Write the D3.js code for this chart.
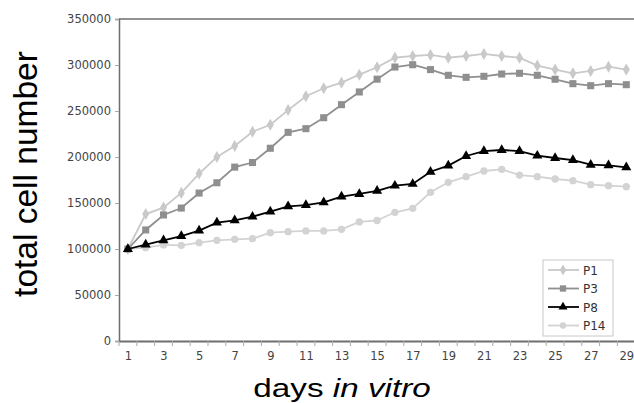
<!DOCTYPE html>
<html>
<head>
<meta charset="utf-8">
<script src="https://cdn.jsdelivr.net/npm/d3@7"></script>
<style>
  body { margin: 0; background: #fff; }
  svg { display: block; }
  .tick text { font-family: "DejaVu Sans", Verdana, sans-serif; font-size: 11.5px; fill: #444; }
</style>
</head>
<body>
<svg id="chart" width="634" height="403"></svg>
<script>
// days 1..29
var days = d3.range(1, 30);
var yTicks = [0, 50000, 100000, 150000, 200000, 250000, 300000, 350000];

var p1 = [100000, 138000, 145000, 161000, 182000, 200000, 212000, 227500, 235000, 251000,
  266000, 274700, 280800, 289500, 297500, 308000, 309800, 310900, 308000, 309800,
  312000, 309800, 308000, 299300, 295000, 291000, 293500, 298200, 295000];
var p3 = [100000, 120700, 137000, 144500, 160800, 172000, 189000, 194000, 209500, 226800,
  230800, 242700, 256900, 270700, 284600, 297800, 300300, 295000, 288800, 286600,
  287700, 290200, 291000, 288800, 284500, 279700, 277500, 279700, 278600];
var p8 = [100000, 104700, 109400, 114100, 119900, 128600, 131200, 135100, 140600, 146400,
  147800, 150700, 156900, 159800, 163200, 168800, 170700, 184000, 190600, 201100,
  206500, 207600, 206500, 201400, 198900, 196700, 191600, 191000, 188800];
var p14 = [100000, 101400, 104400, 104000, 106900, 109400, 110500, 111200, 117700, 118800,
  119600, 119600, 121400, 129400, 131000, 139900, 144200, 161600, 172500, 178600,
  184800, 186600, 180400, 178600, 176100, 174300, 169900, 168800, 167700];

var seriesNames = ["P1", "P3", "P8", "P14"];
var seriesValues = [p1, p3, p8, p14];
var seriesStyle = [
  {stroke: "#c9c9c9", fill: "#c9c9c9", symbol: d3.symbolDiamond, size: 42},
  {stroke: "#8f8f8f", fill: "#8f8f8f", symbol: d3.symbolSquare, size: 50},
  {stroke: "#000000", fill: "#000000", symbol: d3.symbolTriangle, size: 44},
  {stroke: "#d3d3d3", fill: "#d3d3d3", symbol: d3.symbolCircle, size: 42}
];

var svg = d3.select("#chart");
var margin = {left: 119, right: 0, top: 19, bottom: 62};
var width = 634 - margin.left - margin.right;
var height = 403 - margin.top - margin.bottom;

var g = svg.append("g").attr("transform", "translate(" + margin.left + "," + margin.top + ")");

var x = d3.scalePoint().domain(days).range([0, 29 * 17.8]).padding(0.5);
var y = d3.scaleLinear().domain([0, 350000]).range([height, 0]);

// top border
g.append("line")
  .attr("x1", 0).attr("x2", width).attr("y1", 0).attr("y2", 0)
  .attr("stroke", "#6e6e6e").attr("stroke-width", 1.5);

// y axis
var yAxis = g.append("g")
  .call(d3.axisLeft(y).tickValues(yTicks).tickSize(4).tickPadding(4).tickFormat(d3.format("d")));
yAxis.select(".domain").attr("stroke", "#6e6e6e").attr("stroke-width", 1.5);
yAxis.selectAll(".tick line").attr("stroke", "#aaa");

// x axis: ticks on band boundaries, labels on odd days
var step = x.step();
var xAxis = g.append("g").attr("transform", "translate(0," + height + ")")
  .call(d3.axisBottom(x).tickSize(0).tickPadding(11)
    .tickFormat(function(d) { return d % 2 === 1 ? d : ""; }));
xAxis.select(".domain").attr("stroke", "#6e6e6e").attr("stroke-width", 2);
xAxis.selectAll(".bound").data(d3.range(0, 30)).enter().append("line")
  .attr("x1", function(i) { return i * step; })
  .attr("x2", function(i) { return i * step; })
  .attr("y1", 0).attr("y2", 5)
  .attr("stroke", "#aaa");

// series, drawn back to front
var line = d3.line()
  .x(function(d, i) { return x(days[i]); })
  .y(function(d) { return y(d); });

[3, 0, 1, 2].forEach(function(k) {
  var st = seriesStyle[k];
  var sg = g.append("g");
  sg.append("path")
    .datum(seriesValues[k])
    .attr("d", line)
    .attr("fill", "none")
    .attr("stroke", st.stroke)
    .attr("stroke-width", 1.8);
  sg.selectAll("path.pt").data(seriesValues[k]).enter().append("path")
    .attr("class", "pt")
    .attr("d", d3.symbol().type(st.symbol).size(st.size))
    .attr("transform", function(d, i) { return "translate(" + x(days[i]) + "," + y(d) + ")"; })
    .attr("fill", st.fill);
});

// legend
var legend = svg.append("g").attr("transform", "translate(543,260)");
legend.append("rect")
  .attr("width", 70).attr("height", 76)
  .attr("fill", "#fff").attr("stroke", "#c8c8c8");
seriesNames.forEach(function(name, k) {
  var st = seriesStyle[k];
  var ly = 10 + k * 18.5;
  legend.append("line")
    .attr("x1", 5).attr("x2", 36).attr("y1", ly).attr("y2", ly)
    .attr("stroke", st.stroke).attr("stroke-width", 1.8);
  legend.append("path")
    .attr("d", d3.symbol().type(st.symbol).size(st.size * 0.8))
    .attr("transform", "translate(20," + ly + ")")
    .attr("fill", st.fill);
  legend.append("text")
    .attr("x", 40).attr("y", ly + 4.5)
    .attr("font-family", "DejaVu Sans, Verdana, sans-serif")
    .attr("font-size", 12)
    .attr("fill", "#333")
    .text(name);
});

// axis titles
svg.append("text")
  .attr("transform", "translate(37,174) rotate(-90)")
  .attr("text-anchor", "middle")
  .attr("font-family", "Liberation Sans, Arial, sans-serif")
  .attr("font-size", 33.5)
  .attr("fill", "#000")
  .text("total cell number");

// x title is stretched horizontally in the original
var xt = svg.append("text")
  .attr("transform", "translate(342,397) scale(1.33,1)")
  .attr("text-anchor", "middle")
  .attr("font-family", "Liberation Sans, Arial, sans-serif")
  .attr("font-size", 25)
  .attr("fill", "#000");
xt.append("tspan").text("days ");
xt.append("tspan").attr("font-style", "italic").text("in vitro");
</script>
</body>
</html>
